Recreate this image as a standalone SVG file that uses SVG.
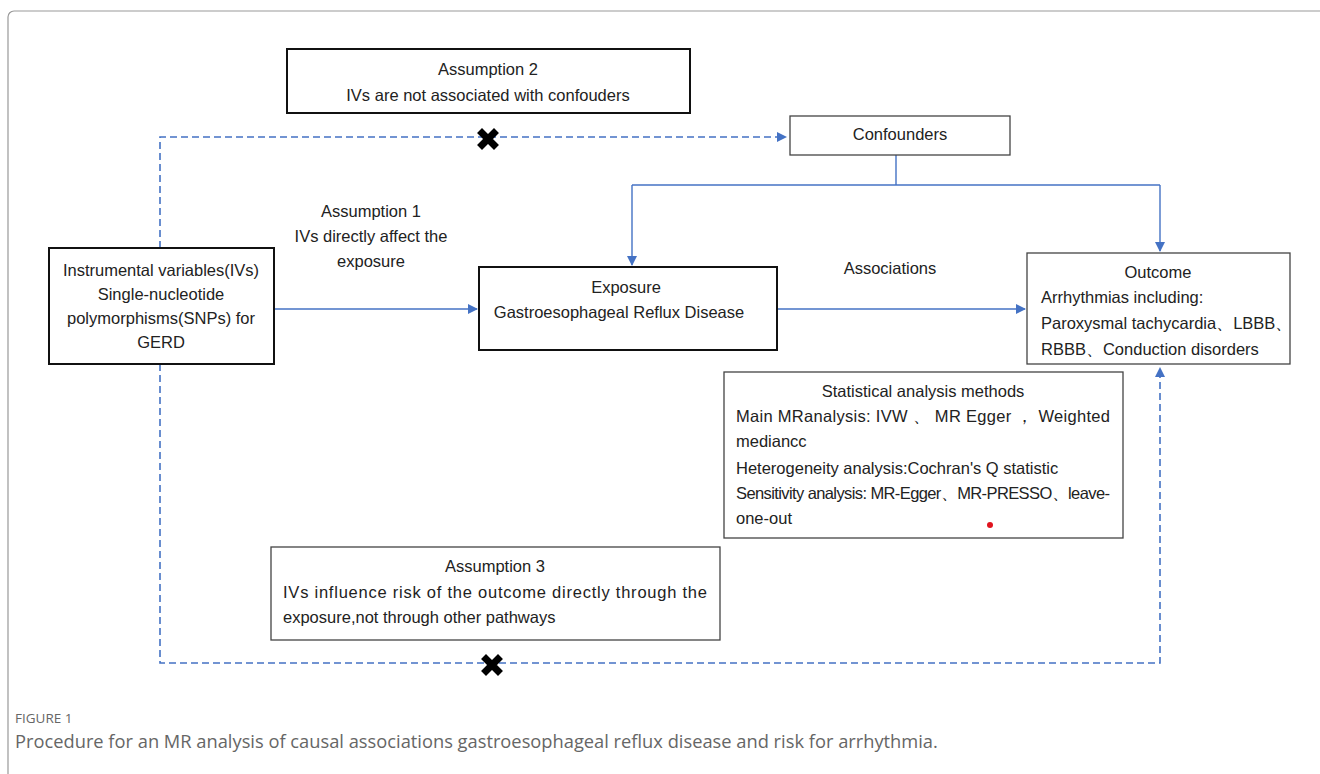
<svg xmlns="http://www.w3.org/2000/svg" width="1320" height="774" viewBox="0 0 1320 774">
<defs>
<style>
.t{font-family:"Liberation Sans",Arial,sans-serif;font-size:16.5px;fill:#222}
.c{text-anchor:middle}
.bx{fill:#fff;stroke:#111;stroke-width:2}
.bt{fill:#fff;stroke:#444;stroke-width:1.3}
.ln{fill:none;stroke:#4472C4;stroke-width:1.4}
.ds{fill:none;stroke:#4472C4;stroke-width:1.6;stroke-dasharray:7,4}
.cap{font-family:"Open Sans","Liberation Sans",sans-serif;fill:#666}
.x{stroke:#000;stroke-width:7;stroke-linecap:square}
</style>
<marker id="ah" markerWidth="10" markerHeight="10" refX="9" refY="5" orient="auto" markerUnits="userSpaceOnUse">
<path d="M0,0 L10,5 L0,10 Z" fill="#4472C4"/>
</marker>
</defs>
<rect x="8" y="11" width="1330" height="790" rx="6" fill="#fff" stroke="#999" stroke-width="1.2"/>

<g id="connectors">
<path class="ds" d="M160,248 V137 H786" marker-end="url(#ah)"/>
<path class="ds" d="M160,364 V663 H1160 V368" marker-end="url(#ah)"/>
<path class="ln" d="M896,155 V185"/>
<path class="ln" d="M632,185 H1160"/>
<path class="ln" d="M632,185 V265" marker-end="url(#ah)"/>
<path class="ln" d="M1160,185 V251" marker-end="url(#ah)"/>
<path class="ln" d="M274,309 H477" marker-end="url(#ah)"/>
<path class="ln" d="M777,309 H1025" marker-end="url(#ah)"/>
<path class="x" d="M482,133 L494,145 M494,133 L482,145"/>
<path class="x" d="M486,659 L498,671 M498,659 L486,671"/>
</g>

<g id="assumption2">
<rect class="bx" x="287" y="49" width="403" height="64"/>
<text class="t c" x="488" y="75">Assumption 2</text>
<text class="t c" x="488" y="101">IVs are not associated with confouders</text>
</g>

<g id="confounders">
<rect class="bt" x="790" y="116" width="220" height="39"/>
<text class="t c" x="900" y="140">Confounders</text>
</g>

<g id="assumption1">
<text class="t c" x="371" y="217">Assumption 1</text>
<text class="t c" x="371" y="242">IVs directly affect the</text>
<text class="t c" x="371" y="267">exposure</text>
</g>

<g id="iv">
<rect class="bx" x="49" y="248" width="225" height="116"/>
<text class="t c" x="161" y="276">Instrumental variables(IVs)</text>
<text class="t c" x="161" y="300">Single-nucleotide</text>
<text class="t c" x="161" y="324">polymorphisms(SNPs) for</text>
<text class="t c" x="161" y="348">GERD</text>
</g>

<g id="exposure">
<rect class="bx" x="479" y="267" width="298" height="83"/>
<text class="t c" x="626" y="293">Exposure</text>
<text class="t c" x="619" y="318">Gastroesophageal Reflux Disease</text>
</g>

<g id="associations">
<text class="t c" x="890" y="274">Associations</text>
</g>

<g id="outcome">
<rect class="bt" x="1027" y="253" width="263" height="111"/>
<text class="t c" x="1158" y="278">Outcome</text>
<text class="t" x="1041" y="303">Arrhythmias including:</text>
<text class="t" x="1041" y="329">Paroxysmal tachycardia、LBBB、</text>
<text class="t" x="1041" y="355">RBBB、Conduction disorders</text>
</g>

<g id="stats">
<rect class="bt" x="724" y="372" width="399" height="166"/>
<text class="t c" x="923" y="397">Statistical analysis methods</text>
<text class="t" x="736" y="422" textLength="374" lengthAdjust="spacing">Main MRanalysis: IVW 、 MR Egger ，  Weighted</text>
<text class="t" x="736" y="447">mediancc</text>
<text class="t" x="736" y="474">Heterogeneity analysis:Cochran's Q statistic</text>
<text class="t" x="736" y="499" textLength="374" lengthAdjust="spacing">Sensitivity analysis:  MR-Egger、MR-PRESSO、leave-</text>
<text class="t" x="736" y="524">one-out</text>
<circle cx="990" cy="525" r="3" fill="#e0141e"/>
</g>

<g id="assumption3">
<rect class="bt" x="271" y="547" width="449" height="93"/>
<text class="t c" x="495" y="572">Assumption 3</text>
<text class="t" x="283" y="598" textLength="424" lengthAdjust="spacing">IVs influence risk of the outcome directly through the</text>
<text class="t" x="283" y="623">exposure,not through other pathways</text>
</g>

<g id="caption">
<text class="cap" x="15" y="723" font-size="13.5">FIGURE 1</text>
<text class="cap" x="15" y="748" font-size="18.3">Procedure for an MR analysis of causal associations gastroesophageal reflux disease and risk for arrhythmia.</text>
</g>
</svg>
